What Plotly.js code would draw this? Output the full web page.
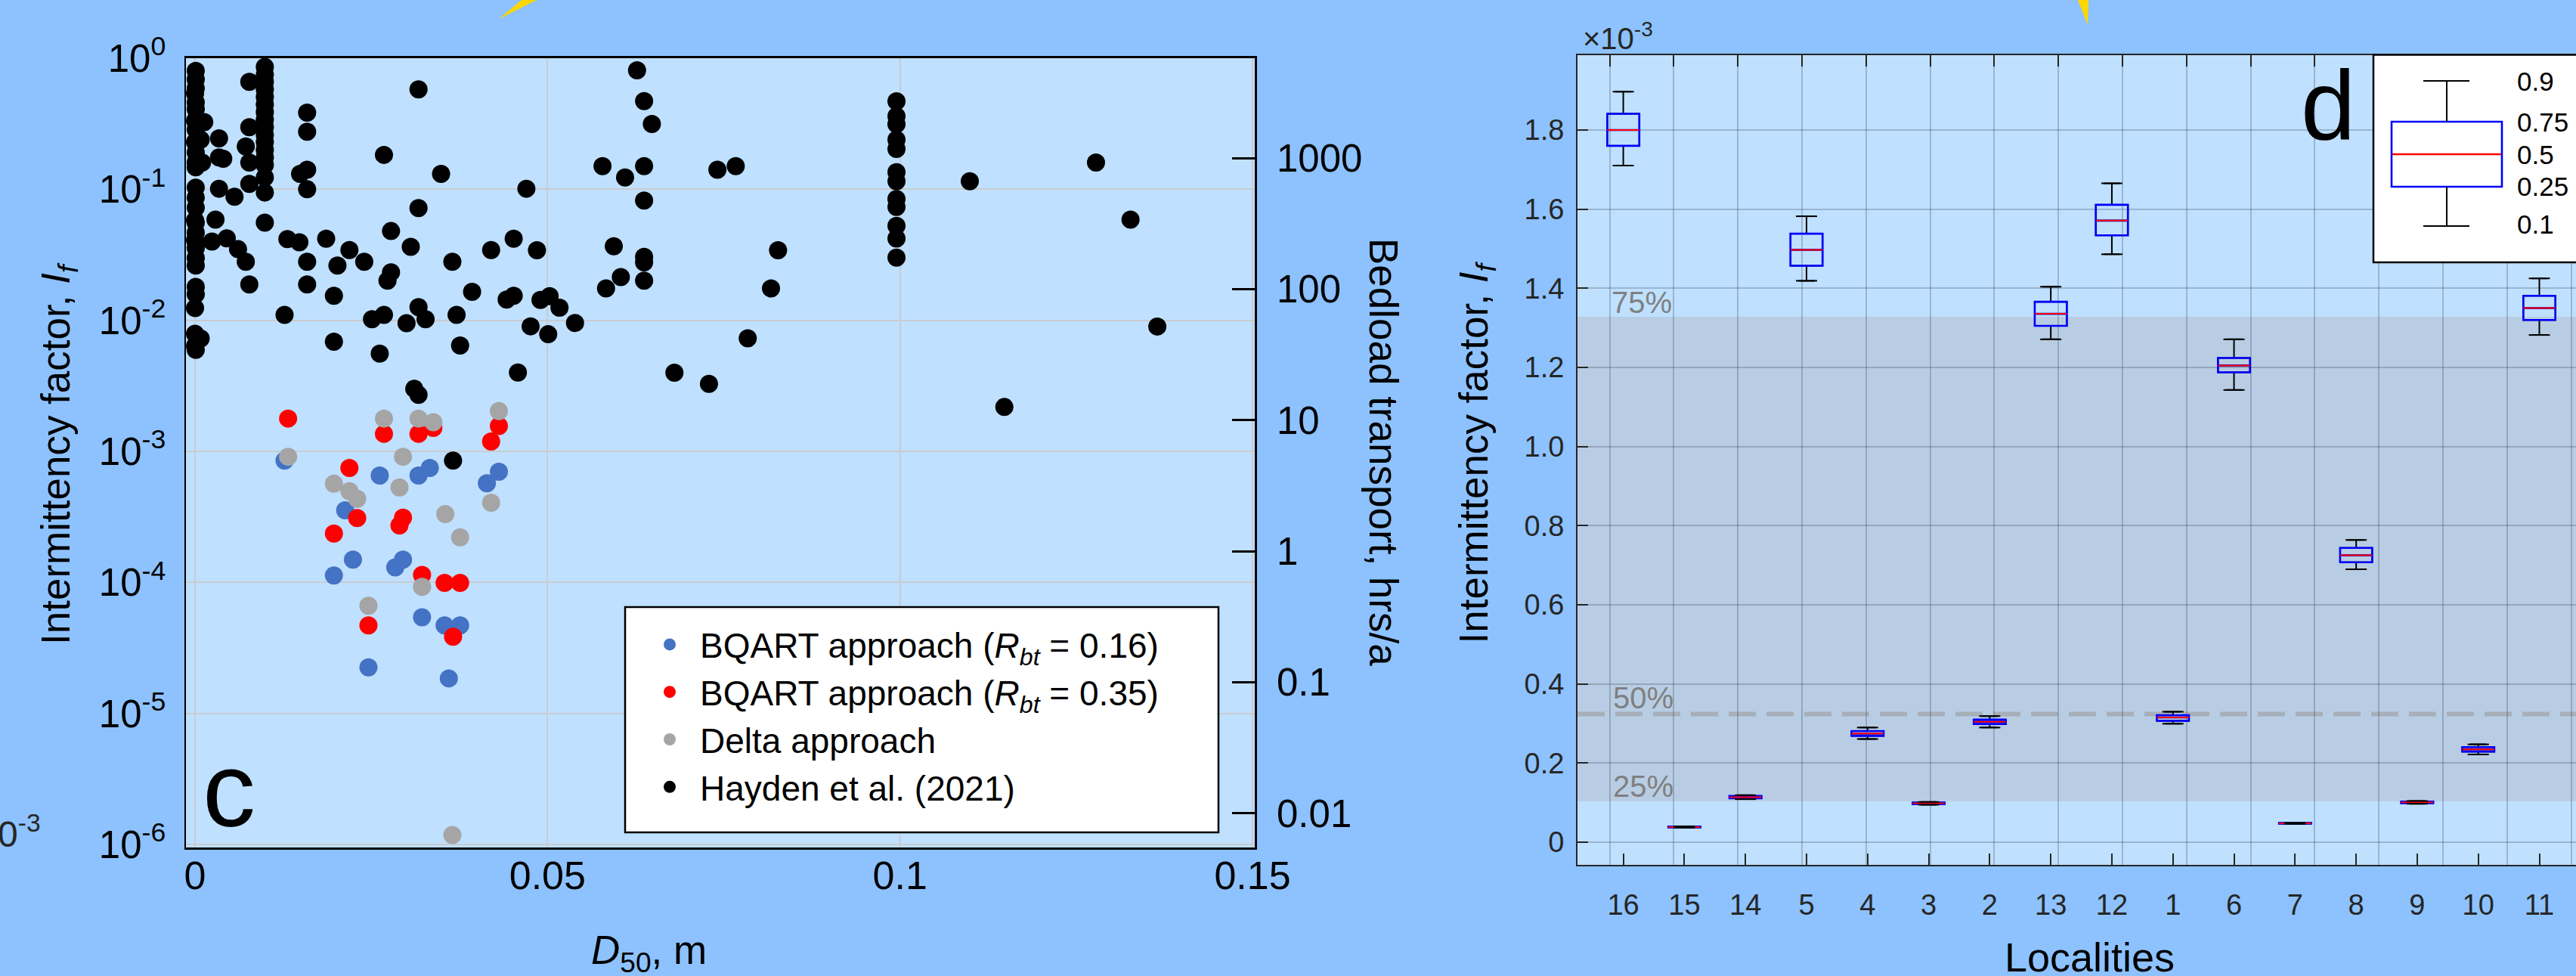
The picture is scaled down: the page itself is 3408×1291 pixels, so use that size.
<!DOCTYPE html>
<html><head><meta charset="utf-8">
<script src="https://cdn.plot.ly/plotly-3.0.1.min.js"></script>
<style>html,body{margin:0;padding:0;overflow:hidden;background:#8dc2ff}</style>
</head><body><div id="chart" style="width:3408px;height:1291px"></div>
<script>
// ---------- panel c : scatter data (D50 in m, intermittency factor If) ----------
const blueD50 = [0.0127,0.0262,0.0317,0.0333,0.0414,0.0431,0.0213,0.0224,0.0197,0.0284,0.0295,0.0322,0.0354,0.0376,0.0246,0.036];
const blueIf  = [8.5e-4,6.53e-4,6.53e-4,7.46e-4,5.71e-4,6.98e-4,3.55e-4,1.49e-4,1.13e-4,1.3e-4,1.49e-4,5.42e-5,4.7e-5,4.7e-5,2.25e-5,1.85e-5];
const redD50  = [0.0132,0.0268,0.0317,0.0338,0.0431,0.042,0.0219,0.023,0.0197,0.0295,0.029,0.0322,0.0354,0.0376,0.0246,0.0366];
const redIf   = [1.78e-3,1.36e-3,1.36e-3,1.51e-3,1.56e-3,1.19e-3,7.46e-4,3.1e-4,2.36e-4,3.12e-4,2.72e-4,1.14e-4,9.9e-5,9.9e-5,4.7e-5,3.85e-5];
const grayD50 = [0.0132,0.0268,0.0317,0.0338,0.0431,0.0295,0.0197,0.0219,0.023,0.029,0.042,0.0355,0.0376,0.0322,0.0246,0.0365];
const grayIf  = [9.1e-4,1.78e-3,1.78e-3,1.67e-3,2.03e-3,9.1e-4,5.66e-4,4.96e-4,4.35e-4,5.3e-4,4.05e-4,3.32e-4,2.21e-4,9.25e-5,6.64e-5,1.18e-6];
const haydenD50 = [
  0.0001,0.0001,0.0001,0,0.0001,0.0001,0,0.0013,0.0001,0.0008,0,0.0001,0.0001,0.001,0.0001,
  0.0001,0.0001,0.0001,0,0.0001,0.0001,0,0.0001,0.0001,0.0001,
  0.0001,0.0001,0,0,0.0008,0,0.0001,
  0.0034,0.0034,0.004,0.0034,0.0056,0.0029,0.0024,0.0045,0.0061,0.0072,0.0077,0.0077,0.0077,0.0072,0.0077,0.0077,
  0.0099,0.0099,0.0099,0.0099,0.0099,0.0099,0.0099,0.0099,0.0099,0.0099,0.0099,0.0099,0.0099,0.0099,0.0099,0.0099,0.0099,
  0.0159,0.0159,0.0149,0.0159,0.0159,0.0317,0.0268,0.0349,0.047,0.0317,0.0278,0.0306,0.0131,0.0148,0.0186,0.0219,0.0159,0.0202,0.024,0.0278,0.0273,0.0365,
  0.042,0.0452,0.0159,0.0197,0.0393,0.0442,0.0452,0.0127,0.0251,0.0268,0.03,0.0317,0.0327,0.0371,0.0476,0.0197,0.0262,0.0376,0.0458,0.0311,0.0317,0.0366,
  0.0627,0.0637,0.0648,0.0578,0.061,0.0637,0.0637,0.0741,0.0767,0.0485,0.0594,0.0637,0.0637,0.0604,0.0583,0.0637,0.0827,0.0817,0.049,0.0503,0.0517,0.0539,0.0501,0.0784,0.068,0.0729,
  0.0995,0.0995,0.0995,0.0995,0.0995,0.0995,0.0995,0.0995,0.0995,0.0995,0.0995,0.0995,0.1099,0.1278,0.1327,0.1365,0.1148
];
const haydenIf = [
  0.80,0.69,0.59,0.54,0.46,0.41,0.333,0.326,0.285,0.239,0.229,0.191,0.16,0.16,0.147,
  0.103,0.0865,0.0724,0.058,0.0556,0.0466,0.0408,0.0357,0.0299,0.0262,
  0.018,0.0158,0.0124,0.0079,0.00727,0.00637,0.00596,
  0.245,0.175,0.171,0.101,0.0876,0.0586,0.0399,0.0423,0.0349,0.028,0.0188,0.66,0.298,0.212,0.16,0.11,
  0.86,0.75,0.66,0.578,0.506,0.443,0.388,0.34,0.298,0.26,0.229,0.2,0.175,0.153,0.123,0.0945,0.0556,
  0.385,0.275,0.131,0.141,0.1,0.578,0.183,0.131,0.101,0.0718,0.048,0.0364,0.0417,0.0394,0.042,0.0344,0.028,0.0262,0.028,0.0232,0.0201,0.028,
  0.0344,0.042,0.0188,0.0154,0.0165,0.0144,0.0154,0.011,0.0102,0.011,0.0095,0.0126,0.0102,0.011,0.009,0.00686,0.00557,0.00643,0.004,0.003,0.0027,0.00085,
  0.81,0.471,0.315,0.15,0.123,0.15,0.082,0.141,0.15,0.0343,0.0367,0.0305,0.0277,0.0214,0.0175,0.0201,0.0343,0.0175,0.0143,0.0153,0.0125,0.00955,0.00783,0.0073,0.00398,0.00327,
  0.469,0.361,0.314,0.239,0.203,0.135,0.115,0.0844,0.0733,0.0526,0.0421,0.0301,0.115,0.16,0.0586,0.00897,0.00218
];
const xTickVals = [0,0.05,0.1,0.15];
const xTickText = ['0','0.05','0.1','0.15'];
const ifTickVals = [1e-6,1e-5,1e-4,1e-3,1e-2,1e-1,1];
const ifTickText = ['10<sup>-6</sup>','10<sup>-5</sup>','10<sup>-4</sup>','10<sup>-3</sup>','10<sup>-2</sup>','10<sup>-1</sup>','10<sup>0</sup>'];
const hrsTickVals = [0.01,0.1,1,10,100,1000];
const hrsTickText = ['0.01','0.1','1','10','100','1000'];

// ---------- panel d : box statistics per locality (units of 1e-3) ----------
const localities = ['16','15','14','5','4','3','2','13','12','1','6','7','8','9','10','11'];
const p10 = [1.710,0.0370,0.109,1.419,0.261,0.095,0.290,1.271,1.486,0.2996,1.143,0.0465,0.690,0.0975,0.222,1.282];
const q25 = [1.760,0.0378,0.111,1.457,0.269,0.0965,0.299,1.305,1.534,0.307,1.1875,0.047,0.7077,0.099,0.229,1.320];
const q50 = [1.800,0.0387,0.114,1.497,0.275,0.0985,0.3046,1.3355,1.571,0.3156,1.205,0.048,0.7254,0.101,0.2348,1.350];
const q75 = [1.841,0.0397,0.117,1.538,0.281,0.1005,0.310,1.366,1.611,0.3214,1.224,0.049,0.744,0.103,0.2406,1.381];
const p90 = [1.897,0.0405,0.119,1.582,0.290,0.102,0.319,1.404,1.665,0.330,1.271,0.0495,0.764,0.1045,0.2475,1.425];
const bandLevels = {p25:0.104, p50:0.324, p75:1.328};
const dTickVals = [0,0.2,0.4,0.6,0.8,1.0,1.2,1.4,1.6,1.8];
const dTickText = ['0','0.2','0.4','0.6','0.8','1.0','1.2','1.4','1.6','1.8'];
const keyLabels = ['0.9','0.75','0.5','0.25','0.1'];

// ---------- layout helpers ----------
const W = 3408, H = 1291;
const X = p => p / W, Y = p => 1 - p / H;
const FONT = 'Liberation Sans, Arial, Helvetica, sans-serif';
const DARK = '#262626';

const traces = [
  {type:'scatter', mode:'markers', x:blueD50, y:blueIf, name:'BQART approach (<i>R</i><sub><i>bt</i></sub> = 0.16)',
   marker:{color:'#4472C4', size:24}, xaxis:'x', yaxis:'y'},
  {type:'scatter', mode:'markers', x:redD50, y:redIf, name:'BQART approach (<i>R</i><sub><i>bt</i></sub> = 0.35)',
   marker:{color:'#FF0000', size:24}, xaxis:'x', yaxis:'y'},
  {type:'scatter', mode:'markers', x:grayD50, y:grayIf, name:'Delta approach',
   marker:{color:'#A5A5A5', size:24}, xaxis:'x', yaxis:'y'},
  {type:'scatter', mode:'markers', x:haydenD50, y:haydenIf, name:'Hayden et al. (2021)',
   marker:{color:'#000000', size:24}, xaxis:'x', yaxis:'y'},
  {type:'scatter', mode:'markers', x:[null], y:[null], xaxis:'x', yaxis:'y3', showlegend:false, hoverinfo:'skip'},
  // panel d boxes
  {type:'box', x:localities, q1:q25, median:q50, q3:q75, lowerfence:p10, upperfence:p90,
   xaxis:'x2', yaxis:'y2', width:0.525, line:{color:'#000', width:2}, fillcolor:'rgba(0,0,0,0)',
   boxpoints:false, showlegend:false, hoverinfo:'skip'},
  {type:'box', x:localities, q1:q25, median:q50, q3:q75, lowerfence:q25, upperfence:q75,
   xaxis:'x2', yaxis:'y2', width:0.525, line:{color:'#0000FF', width:2.6}, fillcolor:'rgba(0,0,0,0)',
   boxpoints:false, showlegend:false, hoverinfo:'skip'},
  {type:'box', x:localities, q1:q50, median:q50, q3:q50, lowerfence:q50, upperfence:q50,
   xaxis:'x2', yaxis:'y2', width:0.525, line:{color:'#FF0000', width:2}, fillcolor:'rgba(0,0,0,0)',
   boxpoints:false, showlegend:false, hoverinfo:'skip'},
  {type:'scatter', mode:'markers', x:localities.concat(localities), y:p10.concat(p90),
   marker:{symbol:'line-ew', size:20, color:'#000', line:{width:2, color:'#000'}},
   xaxis:'x2', yaxis:'y2', showlegend:false, hoverinfo:'skip'},
  {type:'scatter', mode:'markers', x:[null], y:[null], xaxis:'x3', yaxis:'y2', showlegend:false, hoverinfo:'skip'}
];

const gridLeft = '#c9ccd0';
const gridRight = 'rgba(40,50,70,0.25)';

const layout = {
  width:W, height:H, margin:{l:0,r:0,t:0,b:0},
  paper_bgcolor:'#8dc2ff', plot_bgcolor:'#bfe0ff',
  font:{family:FONT, color:'#000'},
  showlegend:true,
  legend:{x:X(846), y:Y(816), xanchor:'left', yanchor:'top', bgcolor:'rgba(0,0,0,0)', borderwidth:0,
          font:{size:46, family:FONT, color:'#000'}, itemwidth:70, traceorder:'normal'},
  xaxis:{domain:[X(246),X(1660)], range:[-0.00129,0.15032], anchor:'y',
         tickvals:xTickVals, ticktext:xTickText, ticks:'', tickfont:{size:52, color:'#000'},
         showgrid:true, gridcolor:gridLeft, gridwidth:2, zeroline:false,
         showline:true, mirror:true, linecolor:'#000', linewidth:2.5, ticklabelstandoff:-10},
  yaxis:{domain:[Y(1121),Y(76.7)], type:'log', range:[-6.023,0.002], anchor:'x',
         tickvals:ifTickVals, ticktext:ifTickText, ticks:'', tickfont:{size:51, color:'#000'},
         showgrid:true, gridcolor:gridLeft, gridwidth:2, zeroline:false,
         showline:true, mirror:true, linecolor:'#000', linewidth:2.5, ticklabelstandoff:14},
  yaxis3:{overlaying:'y', side:'right', anchor:'x', type:'log', range:[-2.261,3.764],
         tickvals:hrsTickVals, ticktext:hrsTickText, ticks:'inside', ticklen:30, tickwidth:3, tickcolor:'#000',
         tickfont:{size:51, color:'#000'}, showgrid:false, zeroline:false, showline:false, ticklabelstandoff:28},
  xaxis2:{domain:[X(2087),1], type:'category', range:[-0.75,15.6], anchor:'y2',
         ticks:'inside', ticklen:15, tickwidth:2, tickcolor:DARK, tickfont:{size:38, color:DARK},
         showgrid:false, zeroline:false, showline:true, linecolor:DARK, linewidth:2, ticklabelstandoff:18},
  xaxis3:{overlaying:'x2', anchor:'y2', side:'top', range:[-0.502,15.076],
         tickvals:[0,1,2,3,4,5,6,7,8,9,10,11,12,13,14,15], showticklabels:false,
         ticks:'inside', ticklen:15, tickwidth:2, tickcolor:DARK,
         showgrid:true, gridcolor:gridRight, gridwidth:2, zeroline:false, showline:true, linecolor:DARK, linewidth:2},
  yaxis2:{domain:[Y(1144),Y(72.5)], range:[-0.057,1.99], anchor:'x2',
         tickvals:dTickVals, ticktext:dTickText, ticks:'inside', ticklen:14, tickwidth:2, tickcolor:DARK,
         tickfont:{size:38, color:DARK}, showgrid:true, gridcolor:gridRight, gridwidth:2, zeroline:false,
         showline:true, linecolor:DARK, linewidth:2, ticklabelstandoff:8},
  shapes:[
    // percentile band and median line of panel d
    {type:'rect', xref:'x2 domain', yref:'y2', x0:0, x1:1, y0:bandLevels.p25, y1:bandLevels.p75,
     fillcolor:'#b8cde3', line:{width:0}, layer:'below'},
    {type:'line', xref:'x2 domain', yref:'y2', x0:0, x1:1, y0:bandLevels.p50, y1:bandLevels.p50,
     line:{color:'#a7afb9', width:6, dash:'36px,14px'}, layer:'below'},
    // legend frame panel c
    {type:'rect', xref:'paper', yref:'paper', x0:X(827), x1:X(1612), y0:Y(1101), y1:Y(803),
     fillcolor:'#ffffff', line:{color:'#000', width:2.5}, layer:'above'},
    // key frame panel d
    {type:'rect', xref:'paper', yref:'paper', x0:X(3140), x1:X(3430), y0:Y(347), y1:Y(72.5),
     fillcolor:'#ffffff', line:{color:'#000', width:2.5}, layer:'above'},
    {type:'rect', xref:'paper', yref:'paper', x0:X(3164), x1:X(3310), y0:Y(247), y1:Y(161),
     fillcolor:'rgba(0,0,0,0)', line:{color:'#0000FF', width:2.6}, layer:'above'},
    {type:'line', xref:'paper', yref:'paper', x0:X(3165), x1:X(3309), y0:Y(204), y1:Y(204),
     line:{color:'#FF0000', width:2.5}, layer:'above'},
    {type:'line', xref:'paper', yref:'paper', x0:X(3237), x1:X(3237), y0:Y(161), y1:Y(107),
     line:{color:'#000', width:2}, layer:'above'},
    {type:'line', xref:'paper', yref:'paper', x0:X(3237), x1:X(3237), y0:Y(247), y1:Y(299),
     line:{color:'#000', width:2}, layer:'above'},
    {type:'line', xref:'paper', yref:'paper', x0:X(3206), x1:X(3267), y0:Y(107), y1:Y(107),
     line:{color:'#000', width:2}, layer:'above'},
    {type:'line', xref:'paper', yref:'paper', x0:X(3206), x1:X(3267), y0:Y(299), y1:Y(299),
     line:{color:'#000', width:2}, layer:'above'},
    // yellow fragments along the top edge
    {type:'path', xref:'paper', yref:'paper', path:`M ${X(660)} ${Y(25)} L ${X(690)} ${Y(0)} L ${X(710)} ${Y(0)} Z`,
     fillcolor:'#ffd700', line:{width:0}, layer:'above'},
    {type:'path', xref:'paper', yref:'paper', path:`M ${X(2749)} ${Y(0)} L ${X(2763)} ${Y(0)} L ${X(2762)} ${Y(33)} Z`,
     fillcolor:'#ffd700', line:{width:0}, layer:'above'}
  ],
  annotations:[
    {xref:'paper', yref:'paper', x:X(78), y:Y(600), text:'Intermittency factor, <i>I</i><sub><i>f</i></sub>',
     textangle:-90, showarrow:false, font:{size:53, color:'#000'}, xanchor:'center', yanchor:'middle'},
    {xref:'paper', yref:'paper', x:X(858), y:Y(1260), text:'<i>D</i><sub>50</sub>, m',
     showarrow:false, font:{size:53, color:'#000'}, xanchor:'center', yanchor:'middle'},
    {xref:'paper', yref:'paper', x:X(1830), y:Y(598), text:'Bedload transport, hrs/a',
     textangle:90, showarrow:false, font:{size:53, color:'#000'}, xanchor:'center', yanchor:'middle'},
    {xref:'paper', yref:'paper', x:X(303), y:Y(1044), text:'c',
     showarrow:false, font:{size:140, color:'#000'}, xanchor:'center', yanchor:'middle'},
    {xref:'paper', yref:'paper', x:X(56), y:Y(1100), text:'0<sup>-3</sup>',
     showarrow:false, font:{size:48, color:DARK}, xanchor:'right', yanchor:'middle'},
    {xref:'paper', yref:'paper', x:X(1953.5), y:Y(599), text:'Intermittency factor, <i>I</i><sub><i>f</i></sub>',
     textangle:-90, showarrow:false, font:{size:53, color:'#000'}, xanchor:'center', yanchor:'middle'},
    {xref:'paper', yref:'paper', x:X(2764), y:Y(1266), text:'Localities',
     showarrow:false, font:{size:54, color:'#000'}, xanchor:'center', yanchor:'middle'},
    {xref:'paper', yref:'paper', x:X(2140), y:Y(48), text:'\u00d710<sup>-3</sup>',
     showarrow:false, font:{size:40, color:DARK}, xanchor:'center', yanchor:'middle'},
    {xref:'paper', yref:'paper', x:X(2130), y:Y(400), text:'75%',
     showarrow:false, font:{size:40, color:'#808080'}, xanchor:'left', yanchor:'middle'},
    {xref:'paper', yref:'paper', x:X(2132), y:Y(922.5), text:'50%',
     showarrow:false, font:{size:40, color:'#808080'}, xanchor:'left', yanchor:'middle'},
    {xref:'paper', yref:'paper', x:X(2132), y:Y(1040), text:'25%',
     showarrow:false, font:{size:40, color:'#808080'}, xanchor:'left', yanchor:'middle'},
    {xref:'paper', yref:'paper', x:X(3080), y:Y(139), text:'d',
     showarrow:false, font:{size:130, color:'#000'}, xanchor:'center', yanchor:'middle'}
  ].concat(keyLabels.map((t,i) => ({xref:'paper', yref:'paper', x:X(3328), y:Y([107,161.6,204,246,296][i]), text:t,
     showarrow:false, font:{size:35, color:'#000'}, xanchor:'left', yanchor:'middle'})))
};

Plotly.newPlot('chart', traces, layout, {staticPlot:true, displayModeBar:false});
</script></body></html>
